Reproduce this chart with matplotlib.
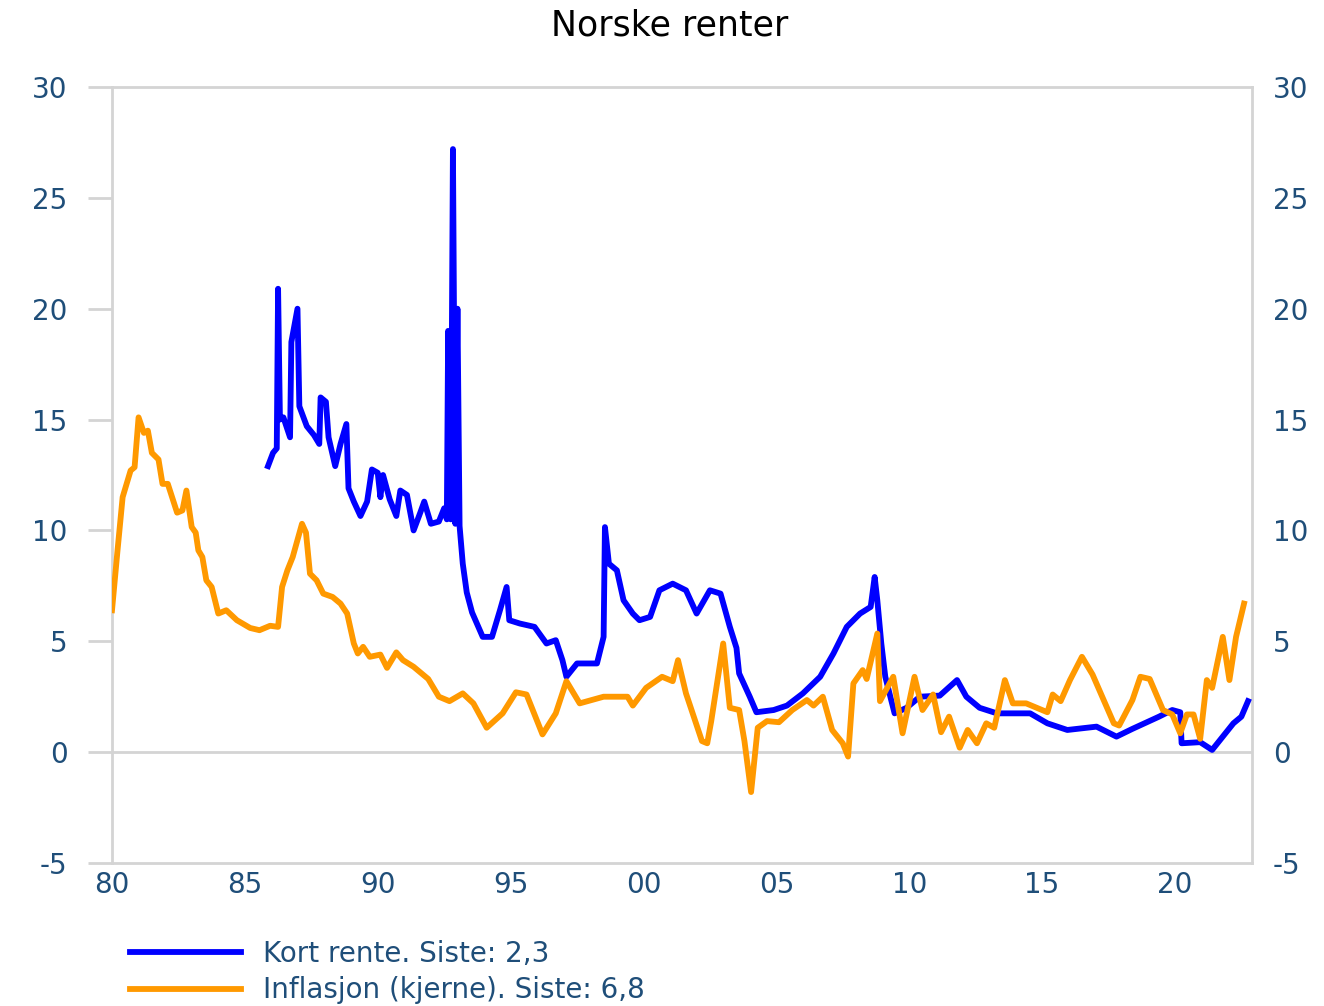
import matplotlib
matplotlib.use("Agg")
import matplotlib.pyplot as plt

# Kort rente (desimalår, prosent)
kort_aar = [1985.87, 1986.06, 1986.2, 1986.25, 1986.32, 1986.45, 1986.7, 1986.75, 1986.98, 1987.05,
            1987.33, 1987.6, 1987.8, 1987.85, 1988.05, 1988.15, 1988.4, 1988.6, 1988.82, 1988.9,
            1989.1, 1989.35, 1989.6, 1989.78, 1990.0, 1990.1, 1990.2, 1990.45, 1990.7, 1990.85,
            1991.1, 1991.35, 1991.6, 1991.75, 1992.0, 1992.3, 1992.5, 1992.6, 1992.65, 1992.75,
            1992.83, 1992.92, 1993.0, 1993.08, 1993.2, 1993.35, 1993.55, 1993.95, 1994.3, 1994.6,
            1994.85, 1994.95, 1995.35, 1995.9, 1996.35, 1996.7, 1996.95, 1997.1, 1997.5, 1998.25,
            1998.5, 1998.55, 1998.7, 1999.0, 1999.25, 1999.6, 1999.85, 2000.25, 2000.6, 2001.1,
            2001.6, 2002.0, 2002.5, 2002.9, 2003.25, 2003.5, 2003.6, 2004.0, 2004.25, 2004.9,
            2005.4, 2006.0, 2006.65, 2007.15, 2007.65, 2008.15, 2008.55, 2008.7, 2008.8, 2008.95,
            2009.1, 2009.45, 2009.9, 2010.4, 2011.15, 2011.8, 2012.15, 2012.65, 2013.3, 2014.55,
            2015.2, 2015.95, 2017.05, 2017.8, 2018.4, 2019.4, 2019.9, 2020.2, 2020.25, 2020.95,
            2021.4, 2021.8, 2022.2, 2022.5, 2022.75]
kort_rente = [12.9, 13.5, 13.7, 20.9, 15.0, 15.1, 14.2, 18.5, 20.0, 15.6,
              14.7, 14.3, 13.9, 16.0, 15.8, 14.2, 12.9, 13.9, 14.8, 11.9,
              11.3, 10.65, 11.3, 12.75, 12.6, 11.5, 12.5, 11.4, 10.65, 11.8,
              11.6, 10.0, 10.8, 11.3, 10.3, 10.4, 11.0, 10.5, 19.0, 10.5,
              27.2, 10.3, 20.0, 10.2, 8.5, 7.2, 6.3, 5.2, 5.2, 6.4,
              7.45, 5.95, 5.8, 5.65, 4.9, 5.05, 4.15, 3.4, 4.0, 4.0,
              5.2, 10.15, 8.5, 8.2, 6.85, 6.25, 5.95, 6.1, 7.3, 7.6,
              7.3, 6.25, 7.3, 7.15, 5.65, 4.7, 3.55, 2.5, 1.8, 1.9,
              2.1, 2.65, 3.4, 4.45, 5.65, 6.25, 6.55, 7.9, 6.85, 4.9,
              3.4, 1.75, 2.0, 2.5, 2.55, 3.25, 2.5, 2.0, 1.75, 1.75,
              1.3, 1.0, 1.15, 0.7, 1.05, 1.6, 1.9, 1.8, 0.4, 0.45,
              0.1, 0.7, 1.3, 1.6, 2.3]

# Kjerneinflasjon
infl_aar = [1980.0, 1980.2, 1980.4, 1980.7, 1980.85, 1981.0, 1981.2, 1981.35, 1981.5, 1981.75,
            1981.9, 1982.1, 1982.45, 1982.65, 1982.8, 1983.0, 1983.15, 1983.25, 1983.4, 1983.55,
            1983.75, 1984.0, 1984.3, 1984.7, 1985.2, 1985.55, 1985.95, 1986.25, 1986.4, 1986.6,
            1986.8, 1987.15, 1987.3, 1987.45, 1987.7, 1987.95, 1988.3, 1988.6, 1988.85, 1989.1,
            1989.25, 1989.45, 1989.7, 1990.1, 1990.35, 1990.7, 1990.95, 1991.35, 1991.6, 1991.9,
            1992.3, 1992.7, 1993.2, 1993.6, 1994.1, 1994.7, 1995.2, 1995.6, 1996.2, 1996.7,
            1997.1, 1997.6, 1998.5, 1999.4, 1999.6, 2000.1, 2000.7, 2001.1, 2001.3, 2001.6,
            2002.2, 2002.4, 2002.55, 2003.0, 2003.25, 2003.6, 2003.8, 2004.05, 2004.3, 2004.65,
            2005.1, 2005.6, 2006.15, 2006.4, 2006.75, 2007.1, 2007.5, 2007.7, 2007.9, 2008.25,
            2008.4, 2008.8, 2008.9, 2009.4, 2009.75, 2010.2, 2010.5, 2010.9, 2011.2, 2011.5,
            2011.9, 2012.2, 2012.55, 2012.9, 2013.2, 2013.6, 2013.9, 2014.4, 2015.2, 2015.4,
            2015.7, 2016.05, 2016.5, 2016.9, 2017.7, 2017.9, 2018.4, 2018.7, 2019.05, 2019.55,
            2019.9, 2020.2, 2020.45, 2020.7, 2020.95, 2021.2, 2021.4, 2021.8, 2022.05, 2022.3,
            2022.6]
inflasjon = [6.4, 9.0, 11.5, 12.7, 12.85, 15.1, 14.4, 14.5, 13.5, 13.2,
             12.1, 12.1, 10.8, 10.9, 11.8, 10.15, 9.9, 9.1, 8.8, 7.75,
             7.45, 6.25, 6.4, 5.95, 5.6, 5.5, 5.7, 5.65, 7.45, 8.2,
             8.8, 10.3, 9.9, 8.05, 7.75, 7.15, 7.0, 6.7, 6.25, 4.9,
             4.45, 4.75, 4.3, 4.4, 3.8, 4.5, 4.15, 3.85, 3.6, 3.3,
             2.5, 2.3, 2.65, 2.2, 1.1, 1.75, 2.7, 2.6, 0.8, 1.75,
             3.2, 2.2, 2.5, 2.5, 2.1, 2.9, 3.4, 3.2, 4.15, 2.65,
             0.5, 0.4, 1.4, 4.9, 2.0, 1.9, 0.5, -1.8, 1.1, 1.4,
             1.35, 1.9, 2.35, 2.1, 2.5, 1.0, 0.4, -0.2, 3.1, 3.7,
             3.3, 5.35, 2.3, 3.4, 0.85, 3.4, 1.9, 2.6, 0.9, 1.6,
             0.2, 1.0, 0.4, 1.3, 1.1, 3.25, 2.2, 2.2, 1.8, 2.6,
             2.3, 3.25, 4.3, 3.5, 1.3, 1.2, 2.35, 3.4, 3.3, 1.9,
             1.7, 0.85, 1.7, 1.7, 0.6, 3.25, 2.9, 5.2, 3.25, 5.2,
             6.7]

x_ticks = [1980, 1985, 1990, 1995, 2000, 2005, 2010, 2015, 2020]
x_labels = ["80", "85", "90", "95", "00", "05", "10", "15", "20"]
y_ticks = [-5, 0, 5, 10, 15, 20, 25, 30]

tekstfarge = "#1F4E79"
rammefarge = "#D4D4D4"

plt.rcParams["font.family"] = ["DejaVu Sans"]
plt.rcParams["axes.unicode_minus"] = False

fig = plt.figure(figsize=(13.24, 10.06), dpi=100)
ax = fig.add_axes([112 / 1324, 143 / 1006, 1140 / 1324, 776 / 1006])

ax.plot(kort_aar, kort_rente, color="#0000FF", lw=4.2, label="Kort rente. Siste: 2,3",
        solid_joinstyle="round", zorder=3)
ax.plot(infl_aar, inflasjon, color="#FF9900", lw=4.2, label="Inflasjon (kjerne). Siste: 6,8",
        solid_joinstyle="round", zorder=3)

ax.axhline(0, color=rammefarge, lw=2, zorder=1)

ax.set_xlim(1980, 2022.9)
ax.set_ylim(-5, 30)
ax.set_xticks(x_ticks)
ax.set_xticklabels(x_labels)
ax.set_yticks(y_ticks)

for s in ax.spines.values():
    s.set_color(rammefarge)
    s.set_linewidth(2)

ax.tick_params(axis="x", length=0, pad=6, labelsize=20, labelcolor=tekstfarge)
ax.tick_params(axis="y", length=17, width=2, color=rammefarge, pad=15,
               labelsize=20, labelcolor=tekstfarge)

ax2 = ax.twinx()
ax2.set_ylim(-5, 30)
ax2.set_yticks(y_ticks)
ax2.tick_params(axis="y", length=0, pad=15, labelsize=20, labelcolor=tekstfarge)
for s in ax2.spines.values():
    s.set_visible(False)

fig.text(0.506, 0.975, "Norske renter", ha="center", va="center", fontsize=25, color="black")

leg = fig.legend(loc="upper left", bbox_to_anchor=(130 / 1324, 1 - 940 / 1006),
                 frameon=False, fontsize=20, handlelength=4.0, handletextpad=0.8,
                 labelspacing=0.3, borderpad=0, borderaxespad=0)
for t in leg.get_texts():
    t.set_color(tekstfarge)

fig.savefig("out.png", dpi=100)
plt.close(fig)
